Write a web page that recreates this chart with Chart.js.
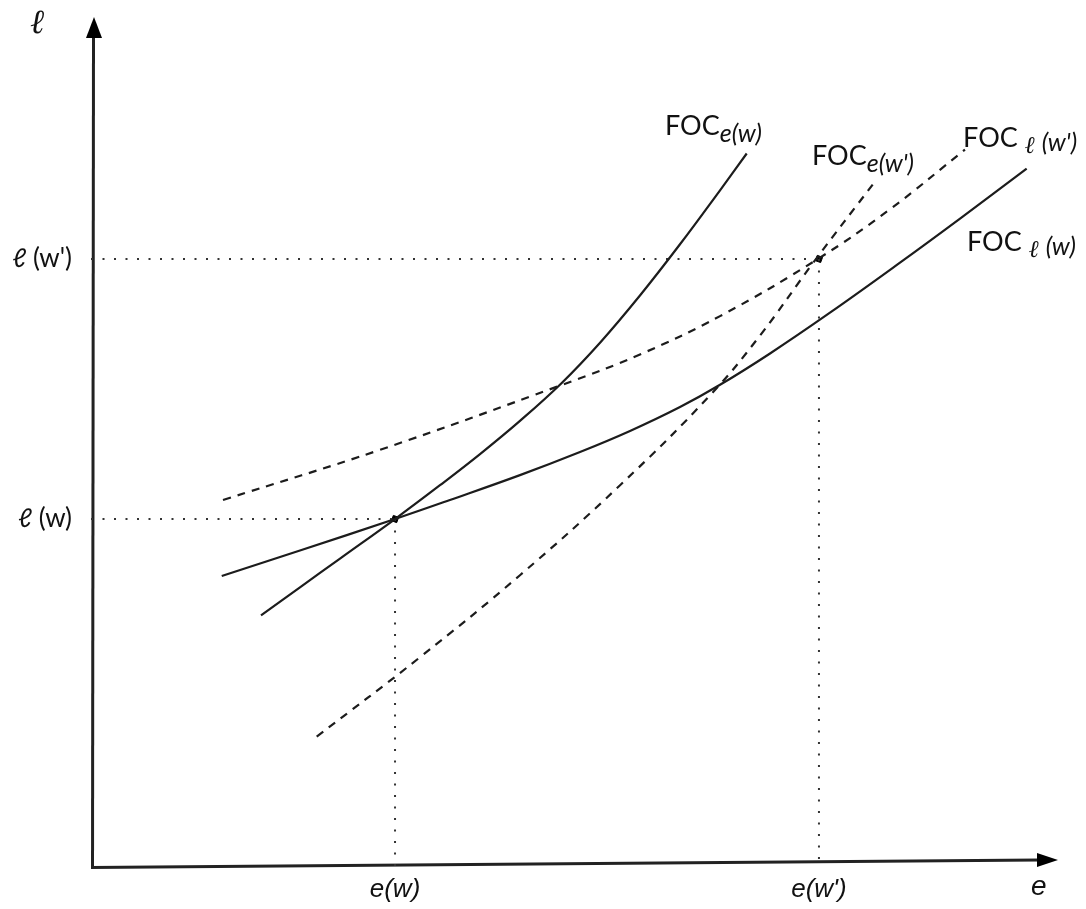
<!DOCTYPE html>
<html><head><meta charset="utf-8">
<script src="https://cdn.jsdelivr.net/npm/chart.js@4.4.0/dist/chart.umd.min.js"></script>
<style>html,body{margin:0;padding:0;background:#fff}</style>
</head><body>
<canvas id="c" width="1086" height="909"></canvas>
<script>
// ---- Data (x: effort e, y: ℓ, both on a 0–100 scale) ----
const focEwX  = [17.58, 21.61, 25.75, 31.44, 36.09, 40.23, 44.36, 48.68, 52.64, 56.77, 60.91, 65.05, 67.81];
const focEwY  = [29.51, 32.82, 36.21, 40.87, 44.85, 48.52, 52.43, 56.90, 61.64, 67.20, 73.23, 79.59, 83.92];
const focLwX  = [13.52, 21.61, 31.44, 37.12, 44.36, 50.57, 55.74, 60.91, 65.05, 70.22, 76.42, 83.66, 89.87, 96.76];
const focLwY  = [34.16, 37.16, 40.87, 43.11, 46.04, 48.76, 51.24, 54.06, 56.68, 60.37, 65.17, 71.06, 76.25, 82.14];
const focLwpX = [13.65, 29.89, 48.68, 56.77, 65.05, 75.18, 82.63, 90.38];
const focLwpY = [43.11, 49.02, 56.66, 60.25, 64.77, 71.51, 77.36, 84.38];
const focEwpX = [23.34, 34.02, 44.36, 54.71, 64.19, 69.19, 74.66, 81.08];
const focEwpY = [15.23, 24.59, 34.25, 44.85, 55.65, 62.49, 71.02, 80.63];
// equilibria
const eqE = [31.44, 75.28];
const eqL = [40.87, 71.50];
// tick labels
const xTickLabels = ["e(w)", "e(w')"];
const yTickLabels = ["ℓ (w)", "ℓ (w')"];
// curve labels
const curveNames = [
  {main: "FOC", sub: "e(w)", ell: false},
  {main: "FOC", sub: "e(w')", ell: false},
  {main: "FOC", sub: "(w')", ell: true},
  {main: "FOC", sub: "(w)", ell: true}
];
const curveLabelAt = [[59.36, 86.10], [74.56, 82.57], [90.18, 84.69], [90.59, 72.44]];

const pts = (xs, ys) => xs.map((x, i) => ({x, y: ys[i]}));
const ink = '#1c1c1c';

const curve = (data, dashed) => ({
  data, borderColor: ink, borderWidth: 2.2, pointRadius: 0,
  borderDash: dashed ? [8, 7] : [], cubicInterpolationMode: 'default', tension: 0.4, fill: false
});
const dotted = (data) => ({
  data, borderColor: '#333', borderWidth: 2, pointRadius: 0, borderDash: [2, 9.5],
  borderCapStyle: 'butt', tension: 0, fill: false
});

const datasets = [
  curve(pts(focEwX, focEwY), false),
  curve(pts(focLwX, focLwY), false),
  curve(pts(focLwpX, focLwpY), true),
  curve(pts(focEwpX, focEwpY), true),
];
eqE.forEach((e, i) => {
  datasets.push(dotted([{x: 0, y: eqL[i]}, {x: e, y: eqL[i]}]));
  datasets.push(dotted([{x: e, y: eqL[i]}, {x: e, y: 0}]));
});
datasets.push({
  data: pts(eqE, eqL), showLine: false, pointStyle: 'rect', pointRadius: 4,
  pointRotation: 20, backgroundColor: '#000', borderColor: '#000', borderWidth: 1
});

const axesPlugin = {
  id: 'axes',
  beforeDatasetsDraw(chart) {
    const {ctx, chartArea: a} = chart;
    const x0 = chart.scales.x.getPixelForValue(0);
    const y0 = chart.scales.y.getPixelForValue(0);
    ctx.save();
    ctx.strokeStyle = '#222'; ctx.fillStyle = '#000'; ctx.lineWidth = 3;
    ctx.beginPath(); ctx.moveTo(x0 + 1.5, y0 + 1.5); ctx.lineTo(x0 + 2.5, a.top + 20); ctx.stroke();
    ctx.beginPath(); ctx.moveTo(x0 + 3, a.top); ctx.lineTo(x0 - 5, a.top + 21); ctx.lineTo(x0 + 11, a.top + 21); ctx.closePath(); ctx.fill();
    ctx.beginPath(); ctx.moveTo(x0, y0 + 1.5); ctx.lineTo(a.right - 19, y0 - 6); ctx.stroke();
    ctx.beginPath(); ctx.moveTo(a.right, y0 - 6); ctx.lineTo(a.right - 21, y0 - 13); ctx.lineTo(a.right - 21, y0 + 1); ctx.closePath(); ctx.fill();
    ctx.restore();
  },
  afterDraw(chart) {
    const {ctx, chartArea: a, scales: {x, y}} = chart;
    ctx.save();
    ctx.fillStyle = '#111';
    ctx.textBaseline = 'alphabetic';
    // axis names
    ctx.font = 'italic 34px "DejaVu Serif"';
    ctx.fillText('ℓ', a.left - 61, a.top + 16);
    ctx.font = 'italic 28px "Liberation Sans"';
    ctx.fillText('e', a.right - 27, a.bottom + 29);
    // curve labels
    curveNames.forEach((n, i) => {
      let px = x.getPixelForValue(curveLabelAt[i][0]);
      const py = y.getPixelForValue(curveLabelAt[i][1]);
      ctx.font = '27px Lato, "DejaVu Sans"';
      ctx.fillText(n.main, px, py);
      px += ctx.measureText(n.main).width;
      if (n.ell) {
        px += 7;
        ctx.font = 'italic 24px "DejaVu Serif"';
        ctx.fillText('ℓ', px, py + 6);
        px += ctx.measureText('ℓ').width + 7;
        ctx.font = 'italic 25px Lato, "DejaVu Sans"';
        ctx.fillText(n.sub, px, py + 4);
      } else {
        ctx.font = 'italic 25px Lato, "DejaVu Sans"';
        ctx.fillText(n.sub, px, py + 7);
      }
    });
    ctx.restore();
  }
};

new Chart(document.getElementById('c'), {
  type: 'line',
  data: {datasets},
  options: {
    responsive: false, animation: false, devicePixelRatio: 1,
    layout: {padding: {top: 17, right: 28, left: 0, bottom: 0}},
    plugins: {legend: {display: false}, tooltip: {enabled: false}},
    scales: {
      x: {
        type: 'linear', min: 0, max: 100,
        grid: {display: false}, border: {display: false},
        afterBuildTicks: (s) => { s.ticks = eqE.map(v => ({value: v})); },
        afterFit: (s) => { s.height = 43; s.paddingLeft = 0; s.paddingRight = 0; },
        ticks: {
          color: '#111', padding: 0, maxRotation: 0, autoSkip: false,
          font: {family: '"Liberation Sans"', size: 26, style: 'italic'},
          callback: (v) => xTickLabels[eqE.indexOf(v)]
        }
      },
      y: {
        type: 'linear', min: 0, max: 100,
        grid: {display: false}, border: {display: false},
        afterBuildTicks: (s) => { s.ticks = eqL.map(v => ({value: v})); },
        afterFit: (s) => { s.width = 91; s.paddingTop = 0; s.paddingBottom = 0; },
        ticks: {
          color: '#111', padding: 11, autoSkip: false,
          font: {family: 'Lato, "DejaVu Sans"', size: 26},
          callback: (v) => yTickLabels[eqL.indexOf(v)]
        }
      }
    }
  },
  plugins: [axesPlugin]
});
</script>
</body></html>
